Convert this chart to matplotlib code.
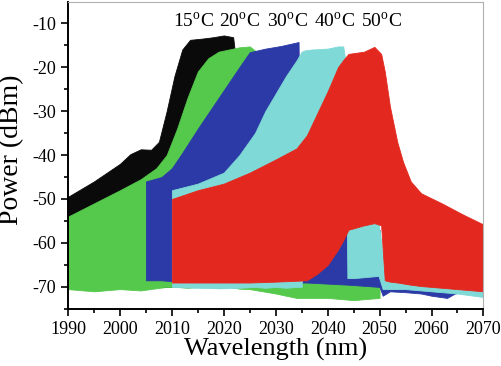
import numpy as np
import matplotlib
matplotlib.use("Agg")
import matplotlib.pyplot as plt
from matplotlib.ticker import MultipleLocator

plt.rcParams['font.family'] = ['Liberation Serif', 'DejaVu Serif']
plt.rcParams['axes.unicode_minus'] = False
plt.rcParams['mathtext.fontset'] = 'custom'
plt.rcParams['mathtext.rm'] = 'Liberation Serif'

# envelopes: wavelength (nm), peak level, trough level (dBm)
wl_15 = [1990, 1995, 2000, 2002, 2004, 2006, 2007.5, 2009, 2010.5, 2012, 2013.5, 2016, 2018, 2020, 2021.8, 2022.5, 2028]
top_15 = [-49.5, -46, -42, -39.8, -38.7, -38.8, -37, -30, -22, -16, -13.8, -13.5, -13.2, -12.8, -13.2, -20, -25]
low_15 = [-70, -70, -70, -70, -70, -70, -70, -70, -70, -70, -70, -70, -70, -70, -70, -70, -70]

wl_20 = [1990, 1995, 2000, 2004, 2007, 2009, 2011, 2013, 2015, 2017, 2019, 2021, 2023, 2025, 2030, 2034, 2040, 2045, 2050]
top_20 = [-54, -51, -48, -45.5, -43, -40, -34, -27, -21, -18, -16.5, -16, -15.5, -15.3, -20, -30, -45, -55, -60]
low_20 = [-70.5, -71, -70.5, -70.8, -70.3, -70, -70, -70.2, -70, -70, -70.3, -70, -70.4, -70.5, -71.5, -72.5, -72.5, -73, -72.5]

wl_30 = [2005, 2008, 2010, 2012, 2015, 2019, 2023, 2025, 2028, 2031, 2034.4, 2034.6, 2036, 2044, 2050, 2050.6, 2052, 2055, 2058, 2060, 2063, 2064.5, 2067, 2070]
top_30 = [-46, -45, -43, -39.5, -34, -27, -20, -16.6, -15.8, -15.2, -14.3, -40, -57, -57, -57, -69.5, -69.5, -69.5, -69.5, -69.5, -69.5, -69.5, -69.5, -69.5]
low_30 = [-68.5, -68.5, -68.7, -68.7, -68.8, -69, -69, -69, -69, -69, -69, -69, -69, -69.5, -70, -72, -71, -71.2, -71.5, -72, -72.5, -71.5, -71, -71]

wl_40 = [2010, 2015, 2020, 2023, 2026, 2028, 2030, 2032, 2034, 2035, 2035.6, 2037, 2040, 2042, 2043, 2043.6, 2043.8, 2045, 2049.8, 2050.6, 2055, 2060, 2065, 2070]
top_40 = [-48, -46.5, -44, -40, -35, -30, -26, -22, -18.5, -16.5, -16.2, -16, -15.8, -15.3, -15.3, -20, -56.5, -56, -55.5, -62, -64, -65, -66, -66]
low_40 = [-70, -70.2, -70.3, -70.2, -70, -70.2, -70, -70.2, -70, -70, -45, -45, -45, -45, -45, -45, -68, -68, -67.5, -70.5, -70.5, -71, -71.5, -72.3]

wl_50 = [2010, 2015, 2020, 2025, 2030, 2034, 2036, 2038, 2040, 2042, 2043, 2044, 2047, 2049, 2050.3, 2051, 2052, 2053.4, 2054.5, 2056, 2058, 2062, 2066, 2070]
top_50 = [-50, -48, -46.5, -44, -41, -38.5, -35.5, -30.5, -25.5, -20, -18.4, -17, -16.5, -15.4, -17, -21, -29, -37, -41.5, -46, -48.7, -51, -53.5, -55.8]
low_50 = [-69, -69, -69, -69, -68.8, -68.6, -68.5, -67, -65, -61.5, -59.4, -57, -56, -55.5, -56, -68.5, -68.8, -69, -69.2, -69.5, -69.8, -70.2, -70.6, -71]

temps = ['15', '20', '30', '40', '50']
label_wl = [2014.2, 2023.0, 2032.2, 2041.3, 2050.3]
colors = ['#0a0a0a', '#55c94c', '#2b3aa6', '#7fd9d6', '#e3291f']

fig = plt.figure(figsize=(5.02, 3.66), dpi=100)
ax = fig.add_axes([0.1355, 0.156, 0.8275, 0.8385])

spectra = [(wl_15, top_15, low_15), (wl_20, top_20, low_20), (wl_30, top_30, low_30),
           (wl_40, top_40, low_40), (wl_50, top_50, low_50)]
for (wl, top, low), c in zip(spectra, colors):
    ax.fill_between(wl, low, top, color=c, linewidth=0.6, edgecolor=c)

for t, x in zip(temps, label_wl):
    ax.text(x, -9.6, t + r'$^{\rm o}$C', ha='center', va='center', fontsize=14)

ax.set_xlim(1990, 2070)
ax.set_ylim(-75, -5.2)
ax.xaxis.set_major_locator(MultipleLocator(10))
ax.xaxis.set_minor_locator(MultipleLocator(5))
ax.yaxis.set_major_locator(MultipleLocator(10))
ax.yaxis.set_minor_locator(MultipleLocator(5))
ax.tick_params(which='both', direction='out', top=False, right=False, labelsize=13, width=1.2)
ax.tick_params(which='major', length=5)
ax.tick_params(which='minor', length=3)
for s in ['left', 'bottom']:
    ax.spines[s].set_linewidth(1.4)
for s in ['top', 'right']:
    ax.spines[s].set_color('#b0b0b0')
ax.set_xlabel('Wavelength (nm)', fontsize=19, labelpad=0)
ax.set_ylabel('Power (dBm)', fontsize=20)
ax.yaxis.set_label_coords(-0.105, 0.518)

fig.savefig('out.png', dpi=100)
